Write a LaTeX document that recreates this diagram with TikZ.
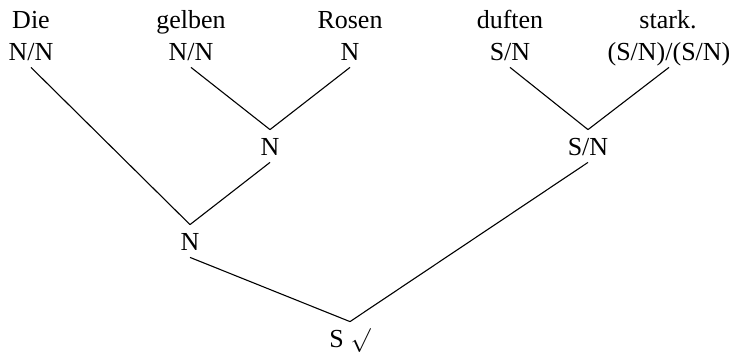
\documentclass[tikz,border=0pt]{standalone}
\usepackage{fontspec}
\setmainfont{Liberation Serif}
\usepackage{amsmath,amssymb}
\usepackage{tikz}
\usetikzlibrary{positioning}

\begin{document}
\begin{tikzpicture}[
    x=0.5pt,y=-0.5pt,
    word/.style={anchor=base,inner sep=0pt,font=\fontsize{13}{15}\selectfont},
    cat/.style={anchor=base,inner xsep=0pt,inner ysep=3.5pt,text height=9pt,text depth=0pt,font=\fontsize{13}{15}\selectfont},
    edge/.style={line width=0.55pt}
]
\useasboundingbox (0,0) rectangle (733,354);
% words and their categories
\node[word] (wdie) at (31,28) {Die};
\node[cat] (cdie) at (31,60) {N/N};
\node[word] (wgelb) at (191,28) {gelben};
\node[cat] (cgelb) at (191,60) {N/N};
\node[word] (wros) at (350,28) {Rosen};
\node[cat] (cros) at (350,60) {N};
\node[word] (wduft) at (510,28) {duften};
\node[cat] (cduft) at (510,60) {S/N};
\node[word] (wstark) at (668,28) {stark.};
\node[cat] (cstark) at (669,60) {(S/N)/(S/N)};
% combined categories
\node[cat] (np1) at (270,155) {N};
\node[cat] (vp) at (588,155) {S/N};
\node[cat] (np2) at (190,250) {N};
\node[cat] (sent) at (350,347) {S\hspace{3.5pt}$\surd$};
\draw[edge] (cgelb.south) -- (np1.north);
\draw[edge] (cros.south) -- (np1.north);
\draw[edge] (cduft.south) -- (vp.north);
\draw[edge] (cstark.south) -- (vp.north);
\draw[edge] (cdie.south) -- (np2.north);
\draw[edge] (np1.south) -- (np2.north);
\draw[edge] (np2.south) -- (sent.north);
\draw[edge] (vp.south) -- (sent.north);
\end{tikzpicture}
\end{document}
